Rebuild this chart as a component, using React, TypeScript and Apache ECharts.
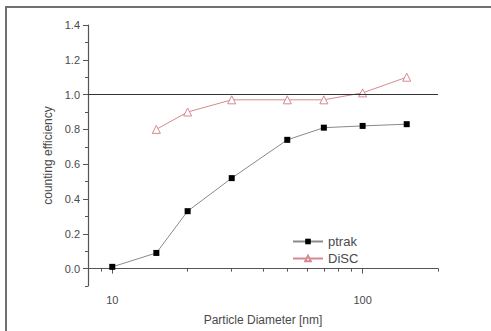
import React, { useEffect, useRef } from "react";
import * as echarts from "echarts";

const diameters = [10, 15, 20, 30, 50, 70, 100, 150];
const ptrakValues = [0.01, 0.09, 0.33, 0.52, 0.74, 0.81, 0.82, 0.83];
const discDiameters = [15, 20, 30, 50, 70, 100, 150];
const discValues = [0.8, 0.9, 0.97, 0.97, 0.97, 1.01, 1.1];
const yMajorTicks = [0, 0.2, 0.4, 0.6, 0.8, 1.0, 1.2, 1.4];
const yMinorTicks = [-0.1, 0.1, 0.3, 0.5, 0.7, 0.9, 1.1, 1.3];
const xMajorTicks = [10, 100];
const xMinorTicks = [8, 9, 20, 30, 40, 50, 60, 70, 80, 90, 200];
const referenceLevel = 1.0;

const FONT = "Liberation Sans, Arial, sans-serif";
const TXT = "#4a4a4a";
const AX = "#555";

export default function App() {
  const ref = useRef<HTMLDivElement>(null);
  useEffect(() => {
    if (!ref.current) return;
    const chart = echarts.init(ref.current, undefined, { renderer: "svg" });
    const xBase = {
      type: "log" as const,
      logBase: 10,
      min: 8,
      max: 200,
      splitLine: { show: false },
      minorTick: { show: false },
    };
    const yBase = {
      type: "value" as const,
      min: -0.1,
      max: 1.4,
      splitLine: { show: false },
    };
    chart.setOption({
      animation: false,
      backgroundColor: "#fff",
      textStyle: { fontFamily: FONT },
      grid: { left: 88, right: 53, top: 25, bottom: 43 },
      graphic: [
        {
          type: "rect",
          shape: { x: 6, y: 7, width: 700, height: 500 },
          style: { fill: "none", stroke: "#707070", lineWidth: 2 },
          silent: true,
        },
      ],
      legend: {
        left: 292,
        top: 235,
        padding: 0,
        orient: "vertical",
        itemWidth: 30,
        itemHeight: 7,
        itemGap: 4,
        textStyle: { fontFamily: FONT, fontSize: 13, color: TXT },
        data: ["ptrak", "DiSC"],
      },
      xAxis: [
        {
          ...xBase,
          name: "Particle Diameter [nm]",
          nameLocation: "middle",
          nameGap: 28,
          nameTextStyle: { fontFamily: FONT, fontSize: 12, color: TXT },
          axisLine: { lineStyle: { color: AX, width: 1.2 } },
          axisTick: { customValues: xMajorTicks, length: 5, lineStyle: { color: AX } },
          axisLabel: {
            customValues: xMajorTicks,
            fontFamily: FONT,
            fontSize: 11,
            color: TXT,
            margin: 8,
          },
        },
        {
          ...xBase,
          position: "bottom",
          axisLine: { show: false },
          axisTick: { customValues: xMinorTicks, length: 3, lineStyle: { color: AX } },
          axisLabel: { show: false },
        },
      ],
      yAxis: [
        {
          ...yBase,
          name: "counting efficiency",
          nameLocation: "middle",
          nameGap: 26,
          nameRotate: 90,
          nameTextStyle: { fontFamily: FONT, fontSize: 12, color: TXT },
          axisLine: { show: true, lineStyle: { color: AX, width: 1.2 } },
          axisTick: { show: true, customValues: yMajorTicks, length: 5, lineStyle: { color: AX } },
          axisLabel: {
            customValues: yMajorTicks,
            formatter: (v: number) => v.toFixed(1),
            fontFamily: FONT,
            fontSize: 11,
            color: TXT,
            margin: 8,
          },
        },
        {
          ...yBase,
          position: "left",
          axisLine: { show: false },
          axisTick: { show: true, customValues: yMinorTicks, length: 3, lineStyle: { color: AX } },
          axisLabel: { show: false },
        },
      ],
      series: [
        {
          name: "ptrak",
          type: "line",
          data: diameters.map((d, i) => [d, ptrakValues[i]]),
          symbol: "rect",
          symbolSize: 6,
          itemStyle: { color: "#000" },
          lineStyle: { color: "#8a8a8a", width: 1 },
          markLine: {
            silent: true,
            symbol: "none",
            label: { show: false },
            lineStyle: { color: "#333", width: 1.2, type: "solid" },
            data: [{ yAxis: referenceLevel }],
          },
        },
        {
          name: "DiSC",
          type: "line",
          data: discDiameters.map((d, i) => [d, discValues[i]]),
          symbol: "triangle",
          symbolSize: 8,
          itemStyle: { color: "#fff", borderColor: "#d48a90", borderWidth: 1 },
          lineStyle: { color: "#d48a90", width: 1 },
        },
      ],
    });
    return () => chart.dispose();
  }, []);
  return (
    <div
      ref={ref}
      style={{ position: "fixed", left: 0, top: 0, width: 491, height: 331 }}
    />
  );
}
